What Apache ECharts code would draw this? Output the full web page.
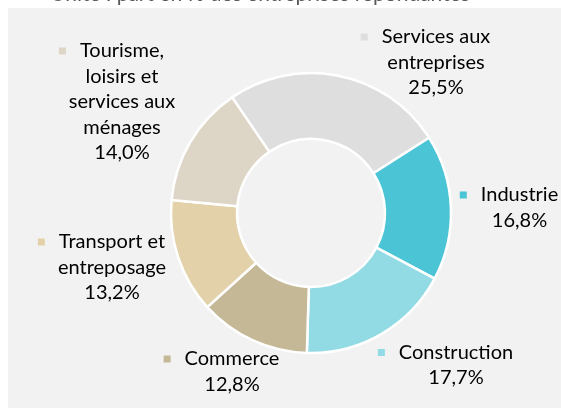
<!DOCTYPE html>
<html>
<head>
<meta charset="utf-8">
<script src="https://cdn.jsdelivr.net/npm/echarts@6/dist/echarts.min.js"></script>
<style>
html,body{margin:0;padding:0;background:#ffffff;}
#chart{width:561px;height:408px;}
</style>
</head>
<body>
<div id="chart"></div>
<script>
// ---- Data ----
const titleText = 'Unité : part en % des entreprises répondantes';
const categories = [
  'Services aux\nentreprises',
  'Industrie',
  'Construction',
  'Commerce',
  'Transport et\nentreposage',
  'Tourisme,\nloisirs et\nservices aux\nménages'
];
const values = [25.5, 16.8, 17.7, 12.8, 13.2, 14.0];

// ---- Styles / layout (not data) ----
const colors = ['#DEDEDE', '#4BC4D6', '#92DBE4', '#C4B897', '#E3D2A9', '#DDD5C6'];
const labelAnchors = [[436, 37], [519.5, 195], [456, 352.5], [232, 359], [112, 242], [122, 51]];
const FONT = 'Lato';
const FS = 20;
const LH = 25.5;
const SQ = 7, GAP = 14;

const chart = echarts.init(document.getElementById('chart'));

function fmt(v) { return v.toFixed(1).replace('.', ',') + '%'; }

const rich = {
  sq: { width: SQ, height: SQ, lineHeight: LH, verticalAlign: 'middle' },
  gap: { width: GAP, height: 1, lineHeight: LH },
  pad: { width: SQ + GAP, height: 1, lineHeight: LH },
  t: { fontFamily: FONT, fontSize: FS, lineHeight: LH, color: '#000000' }
};
categories.forEach((c, i) => {
  rich['sq' + i] = Object.assign({}, rich.sq, { backgroundColor: colors[i] });
});

chart.setOption({
  animation: false,
  backgroundColor: '#ffffff',
  graphic: [
    {
      type: 'text', z: 1,
      x: 260, y: 5,
      style: {
        text: titleText, fontFamily: FONT, fontSize: 21, fill: '#595959',
        align: 'center', verticalAlign: 'bottom'
      }
    },
    {
      type: 'rect', z: 2,
      shape: { x: 8, y: 8, width: 570, height: 420 },
      style: { fill: '#F2F2F2' }
    }
  ],
  series: [{
    type: 'pie',
    z: 5,
    center: [311, 213],
    radius: [74, 140],
    startAngle: 124.3,
    clockwise: true,
    avoidLabelOverlap: false,
    silent: true,
    emphasis: { disabled: true },
    itemStyle: { borderColor: '#ffffff', borderWidth: 2.5 },
    label: {
      show: true,
      position: 'outside',
      align: 'center',
      rich: rich,
      formatter: function (p) {
        const lines = p.name.split('\n');
        let s = '{sq' + p.dataIndex + '|}{gap|}{t|' + lines[0] + '}{pad|}';
        for (let k = 1; k < lines.length; k++) s += '\n{t|' + lines[k] + '}';
        s += '\n{t|' + fmt(p.value) + '}';
        return s;
      }
    },
    labelLine: { show: false },
    labelLayout: function (params) {
      const a = labelAnchors[params.dataIndex];
      return { x: a[0], y: a[1] - LH / 2, align: 'center', verticalAlign: 'top' };
    },
    data: categories.map((c, i) => ({ name: c, value: values[i], itemStyle: { color: colors[i] } }))
  }]
});
</script>
</body>
</html>
